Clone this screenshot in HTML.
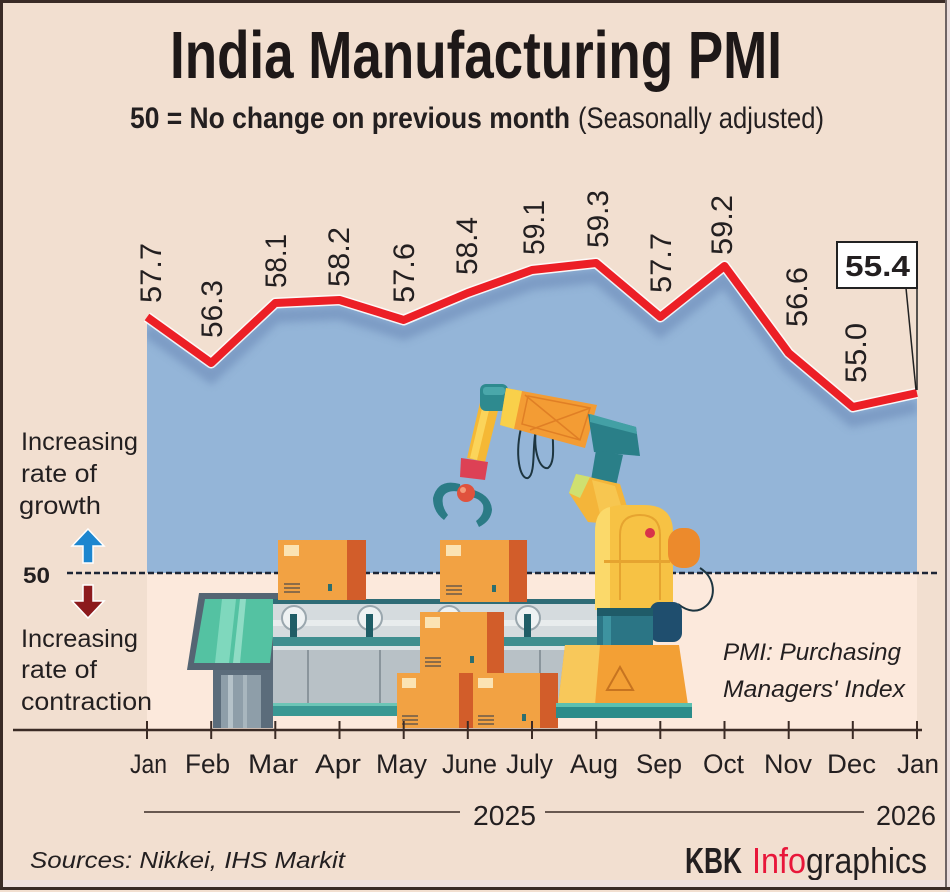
<!DOCTYPE html>
<html><head><meta charset="utf-8">
<style>
html,body{margin:0;padding:0;background:#f2dfd0;}
svg{display:block;}
text{font-family:"Liberation Sans",sans-serif;fill:#231f20;}
</style></head>
<body>
<svg width="950" height="892" viewBox="0 0 950 892" xmlns="http://www.w3.org/2000/svg">
<defs>
  <clipPath id="blueclip">
    <polygon points="147,322 211.2,368 275.3,308 339.5,305 403.7,325 467.8,298 532,275 596.2,268 660.3,322 724.5,271 788.7,358 852.8,412 917,398 917,573 147,573"/>
  </clipPath>
  <filter id="blur" x="-10%" y="-50%" width="120%" height="200%"><feGaussianBlur stdDeviation="4"/></filter>
</defs>
<rect x="0" y="0" width="950" height="892" fill="#f2dfd0"/>
<!-- lower plot region -->
<rect x="147" y="573" width="770" height="157" fill="#fce9dc"/>
<!-- blue area -->
<polygon points="147,322 211.2,368 275.3,308 339.5,305 403.7,325 467.8,298 532,275 596.2,268 660.3,322 724.5,271 788.7,358 852.8,412 917,398 917,573 147,573" fill="#94b5d8"/>
<g clip-path="url(#blueclip)">
  <polyline points="147,330 211.2,376 275.3,316 339.5,313 403.7,333 467.8,306 532,283 596.2,276 660.3,330 724.5,279 788.7,366 852.8,420 917,406" fill="none" stroke="#7795c0" stroke-width="14" filter="url(#blur)" opacity="0.8"/>
</g>
<!-- red line -->
<polyline points="147,317 211.2,363 275.3,303 339.5,300 403.7,320 467.8,293 532,270 596.2,263 660.3,317 724.5,266 788.7,353 852.8,407 917,393" fill="none" stroke="#ffffff" stroke-width="11" stroke-linejoin="round" opacity="0.85"/>
<polyline points="147,317 211.2,363 275.3,303 339.5,300 403.7,320 467.8,293 532,270 596.2,263 660.3,317 724.5,266 788.7,353 852.8,407 917,393" fill="none" stroke="#ec1f26" stroke-width="8" stroke-linejoin="round"/>

<!-- data labels -->
<g font-size="30">
<text transform="translate(161,303) rotate(-90)" textLength="60" lengthAdjust="spacingAndGlyphs">57.7</text>
<text transform="translate(222,338) rotate(-90)" textLength="58" lengthAdjust="spacingAndGlyphs">56.3</text>
<text transform="translate(286,288) rotate(-90)" textLength="54" lengthAdjust="spacingAndGlyphs">58.1</text>
<text transform="translate(349,287) rotate(-90)" textLength="60" lengthAdjust="spacingAndGlyphs">58.2</text>
<text transform="translate(414,303) rotate(-90)" textLength="60" lengthAdjust="spacingAndGlyphs">57.6</text>
<text transform="translate(477,275) rotate(-90)" textLength="58" lengthAdjust="spacingAndGlyphs">58.4</text>
<text transform="translate(544,255) rotate(-90)" textLength="55" lengthAdjust="spacingAndGlyphs">59.1</text>
<text transform="translate(608,248) rotate(-90)" textLength="58" lengthAdjust="spacingAndGlyphs">59.3</text>
<text transform="translate(671,293) rotate(-90)" textLength="60" lengthAdjust="spacingAndGlyphs">57.7</text>
<text transform="translate(732,255) rotate(-90)" textLength="60" lengthAdjust="spacingAndGlyphs">59.2</text>
<text transform="translate(807,327) rotate(-90)" textLength="60" lengthAdjust="spacingAndGlyphs">56.6</text>
<text transform="translate(866,383) rotate(-90)" textLength="60" lengthAdjust="spacingAndGlyphs">55.0</text>
</g>

<!-- 55.4 callout -->
<line x1="906" y1="288" x2="916" y2="390" stroke="#222" stroke-width="1.5"/>
<line x1="917" y1="288" x2="917" y2="390" stroke="#222" stroke-width="1.5"/>
<rect x="837" y="242" width="80" height="46" fill="#ffffff" stroke="#222" stroke-width="2"/>
<text x="845" y="276" font-size="29" font-weight="bold" textLength="65" lengthAdjust="spacingAndGlyphs">55.4</text>

<!-- 50 dashed line -->
<line x1="67" y1="573" x2="937" y2="573" stroke="#1d2535" stroke-width="2.5" stroke-dasharray="6,3"/>

<!-- ILLUSTRATION -->
<!-- control panel stand -->
<rect x="213" y="667" width="60" height="61" fill="#5b6c7b"/>
<rect x="221" y="675" width="40" height="53" fill="#8e9ea9"/>
<rect x="228" y="675" width="5" height="53" fill="#b5c2c9"/>
<rect x="243" y="675" width="4" height="53" fill="#a8b6be"/>
<!-- screen -->
<polygon points="199,593 283,593 275,670 187,670" fill="#556573"/>
<polygon points="205,599 277,599 270,663 194,663" fill="#54c2a2"/>
<polygon points="222,599 236,599 229,663 215,663" fill="#7fd8bd"/>
<polygon points="240,599 246,599 240,663 233,663" fill="#8fdcc5"/>
<!-- conveyor -->
<rect x="273" y="601" width="327" height="38" fill="#d5dbde"/>
<rect x="273" y="599" width="327" height="5" fill="#2f6c76"/>
<rect x="273" y="620" width="327" height="6" fill="#e8eced"/>
<g fill="#eef2f3" stroke="#9aa7ae" stroke-width="2">
<circle cx="294" cy="618" r="12"/><circle cx="370" cy="618" r="12"/><circle cx="449" cy="618" r="12"/><circle cx="528" cy="618" r="12"/>
</g>
<g fill="#1f5d66">
<rect x="290" y="614" width="7" height="26"/><rect x="366" y="614" width="7" height="26"/><rect x="445" y="614" width="7" height="26"/><rect x="524" y="614" width="7" height="26"/>
</g>
<rect x="273" y="637" width="327" height="9" fill="#3f8e8f"/>
<rect x="273" y="646" width="327" height="59" fill="#b8c1c6"/>
<rect x="273" y="646" width="327" height="4" fill="#dde3e6"/>
<g stroke="#8a959c" stroke-width="2">
<line x1="308" y1="650" x2="308" y2="703"/><line x1="380" y1="650" x2="380" y2="703"/><line x1="460" y1="650" x2="460" y2="703"/><line x1="540" y1="650" x2="540" y2="703"/>
</g>
<rect x="273" y="703" width="290" height="13" fill="#3a9893"/>
<rect x="273" y="703" width="290" height="3" fill="#6cc5b6"/>

<!-- boxes -->
<g id="boxes">
<!-- box1 -->
<rect x="278" y="540" width="88" height="60" fill="#f2a243"/>
<rect x="347" y="540" width="19" height="60" fill="#d25d2a"/>
<rect x="284" y="545" width="15" height="11" fill="#fbe3b3"/>
<g stroke="#6b5a4a" stroke-width="1.5"><line x1="284" y1="584" x2="300" y2="584"/><line x1="284" y1="588" x2="300" y2="588"/><line x1="284" y1="592" x2="300" y2="592"/></g>
<rect x="328" y="584" width="4" height="7" fill="#2d6e6e"/>
<!-- box2 -->
<rect x="440" y="540" width="87" height="62" fill="#f2a243"/>
<rect x="509" y="540" width="18" height="62" fill="#d25d2a"/>
<rect x="446" y="545" width="15" height="11" fill="#fbe3b3"/>
<g stroke="#6b5a4a" stroke-width="1.5"><line x1="446" y1="586" x2="462" y2="586"/><line x1="446" y1="590" x2="462" y2="590"/><line x1="446" y1="594" x2="462" y2="594"/></g>
<rect x="492" y="585" width="4" height="7" fill="#2d6e6e"/>
<!-- box3 -->
<rect x="420" y="612" width="84" height="61" fill="#f2a243"/>
<rect x="487" y="612" width="17" height="61" fill="#d25d2a"/>
<rect x="425" y="617" width="15" height="11" fill="#fbe3b3"/>
<g stroke="#6b5a4a" stroke-width="1.5"><line x1="425" y1="658" x2="441" y2="658"/><line x1="425" y1="662" x2="441" y2="662"/><line x1="425" y1="666" x2="441" y2="666"/></g>
<rect x="470" y="656" width="4" height="7" fill="#2d6e6e"/>
<!-- box4 -->
<rect x="397" y="673" width="76" height="55" fill="#f2a243"/>
<rect x="459" y="673" width="14" height="55" fill="#d25d2a"/>
<rect x="402" y="678" width="14" height="10" fill="#fbe3b3"/>
<g stroke="#6b5a4a" stroke-width="1.5"><line x1="402" y1="716" x2="418" y2="716"/><line x1="402" y1="720" x2="418" y2="720"/><line x1="402" y1="724" x2="418" y2="724"/></g>
<!-- box5 -->
<rect x="473" y="673" width="85" height="55" fill="#f2a243"/>
<rect x="540" y="673" width="18" height="55" fill="#d25d2a"/>
<rect x="478" y="678" width="15" height="10" fill="#fbe3b3"/>
<g stroke="#6b5a4a" stroke-width="1.5"><line x1="478" y1="716" x2="494" y2="716"/><line x1="478" y1="720" x2="494" y2="720"/><line x1="478" y1="724" x2="494" y2="724"/></g>
<rect x="522" y="714" width="4" height="7" fill="#2d6e6e"/>
</g>

<!-- robot -->
<!-- cables -->
<g fill="none" stroke="#1d3540" stroke-width="2">
<path d="M522,424 C514,455 520,480 528,478 C536,474 532,445 536,430"/>
<path d="M536,428 C533,452 540,470 548,468 C556,462 552,442 553,432"/>
<path d="M700,568 C716,578 716,598 706,606 C698,613 688,612 678,604"/>
</g>
<!-- forearm -->
<polygon points="482,394 501,399 485,462 467,458" fill="#f5b835"/>
<polygon points="485,396 492,398 477,460 470,458" fill="#fbd45a"/>
<!-- wrist -->
<polygon points="461,458 488,462 485,480 460,477" fill="#dd4155"/>
<!-- claws -->
<path d="M460,484 Q438,478 433,498 Q433,512 444,520 L448,515 Q441,506 443,497 Q447,489 461,492 Z" fill="#2b7b86"/>
<path d="M470,489 Q491,494 492,510 Q491,521 479,527 L476,521 Q485,514 483,505 Q479,497 468,497 Z" fill="#2b7b86"/>
<circle cx="466" cy="493" r="9" fill="#e0523d"/>
<circle cx="463" cy="490" r="3" fill="#f39a7a"/>
<!-- shoulder joint -->
<rect x="480" y="384" width="28" height="27" rx="6" fill="#2e8a8f"/>
<rect x="483" y="387" width="22" height="8" rx="3" fill="#4aa7aa"/>
<!-- top arm -->
<polygon points="506,388 597,405 585,448 500,425" fill="#f39c34"/>
<polygon points="506,388 522,391 514,429 500,425" fill="#f9d04a"/>
<g stroke="#e07f25" stroke-width="1.5" fill="none">
<line x1="525" y1="395" x2="580" y2="440"/><line x1="530" y1="430" x2="590" y2="408"/>
<polygon points="528,396 590,408 580,440 522,424"/>
</g>
<!-- elbow -->
<polygon points="588,414 636,427 640,456 594,452" fill="#2a7f88"/>
<polygon points="590,414 636,427 637,434 590,422" fill="#43a0a5"/>
<polygon points="596,450 623,455 616,486 591,480" fill="#2a7f88"/>
<!-- lower arm -->
<polygon points="576,474 620,484 633,526 588,522 569,493" fill="#f4b53a"/>
<polygon points="576,474 590,477 580,498 569,493" fill="#cfe070"/>
<polygon points="592,480 615,486 625,518 600,514" fill="#f7c650"/>
<!-- body -->
<path d="M595,610 L595,532 Q595,505 624,505 L644,505 Q673,505 673,532 L673,610 Z" fill="#f7c244"/>
<path d="M595,610 L595,532 Q595,510 610,507 L610,610 Z" fill="#fbd96a"/>
<path d="M620,600 L620,535 Q620,515 640,515 Q660,515 660,535 L660,600" fill="none" stroke="#e6a430" stroke-width="2"/>
<rect x="604" y="560" width="66" height="3" fill="#e6a430"/>
<circle cx="650" cy="533" r="5" fill="#d8324a"/>
<rect x="668" y="528" width="32" height="40" rx="14" fill="#ec8a2c"/>
<!-- motor & cylinder -->
<rect x="650" y="602" width="32" height="40" rx="9" fill="#1f4e6e"/>
<rect x="597" y="608" width="56" height="38" fill="#2b7585"/>
<rect x="597" y="608" width="56" height="8" fill="#1f5b68"/>
<rect x="603" y="616" width="8" height="30" fill="#3d93a0"/>
<!-- base -->
<polygon points="565,645 679,645 688,705 558,705" fill="#f3a035"/>
<polygon points="565,645 600,645 595,705 558,705" fill="#f8c85a"/>
<polygon points="620,667 633,690 607,690" fill="none" stroke="#c77420" stroke-width="2"/>
<rect x="556" y="703" width="136" height="15" fill="#2b8c8a"/>
<rect x="556" y="703" width="136" height="4" fill="#5cc0b0"/>

<!-- axis -->
<line x1="13" y1="730" x2="922" y2="730" stroke="#3b2b25" stroke-width="2.5"/>
<g stroke="#3b2b25" stroke-width="2">
<line x1="147" y1="721" x2="147" y2="739"/><line x1="211.2" y1="721" x2="211.2" y2="739"/><line x1="275.3" y1="721" x2="275.3" y2="739"/><line x1="339.5" y1="721" x2="339.5" y2="739"/><line x1="403.7" y1="721" x2="403.7" y2="739"/><line x1="467.8" y1="721" x2="467.8" y2="739"/><line x1="532" y1="721" x2="532" y2="739"/><line x1="596.2" y1="721" x2="596.2" y2="739"/><line x1="660.3" y1="721" x2="660.3" y2="739"/><line x1="724.5" y1="721" x2="724.5" y2="739"/><line x1="788.7" y1="721" x2="788.7" y2="739"/><line x1="852.8" y1="721" x2="852.8" y2="739"/><line x1="917" y1="721" x2="917" y2="739"/>
</g>

<!-- month labels -->
<g font-size="27">
<text x="130" y="773" textLength="37" lengthAdjust="spacingAndGlyphs">Jan</text>
<text x="185" y="773" textLength="45" lengthAdjust="spacingAndGlyphs">Feb</text>
<text x="248" y="773" textLength="50" lengthAdjust="spacingAndGlyphs">Mar</text>
<text x="315" y="773" textLength="46" lengthAdjust="spacingAndGlyphs">Apr</text>
<text x="376" y="773" textLength="51" lengthAdjust="spacingAndGlyphs">May</text>
<text x="442" y="773" textLength="55" lengthAdjust="spacingAndGlyphs">June</text>
<text x="506" y="773" textLength="47" lengthAdjust="spacingAndGlyphs">July</text>
<text x="570" y="773" textLength="48" lengthAdjust="spacingAndGlyphs">Aug</text>
<text x="636" y="773" textLength="46" lengthAdjust="spacingAndGlyphs">Sep</text>
<text x="703" y="773" textLength="41" lengthAdjust="spacingAndGlyphs">Oct</text>
<text x="764" y="773" textLength="48" lengthAdjust="spacingAndGlyphs">Nov</text>
<text x="827" y="773" textLength="49" lengthAdjust="spacingAndGlyphs">Dec</text>
<text x="897" y="773" textLength="42" lengthAdjust="spacingAndGlyphs">Jan</text>
</g>

<!-- year row -->
<line x1="144" y1="812" x2="460" y2="812" stroke="#3b2b25" stroke-width="1.5"/>
<line x1="545" y1="812" x2="864" y2="812" stroke="#3b2b25" stroke-width="1.5"/>
<text x="473" y="825" font-size="28" textLength="63" lengthAdjust="spacingAndGlyphs">2025</text>
<text x="876" y="825" font-size="28" textLength="60" lengthAdjust="spacingAndGlyphs">2026</text>

<!-- left annotations -->
<g font-size="25">
<text x="21" y="450" textLength="117" lengthAdjust="spacingAndGlyphs">Increasing</text>
<text x="21" y="482" textLength="76" lengthAdjust="spacingAndGlyphs">rate of</text>
<text x="19" y="514" textLength="82" lengthAdjust="spacingAndGlyphs">growth</text>
<text x="21" y="647" textLength="117" lengthAdjust="spacingAndGlyphs">Increasing</text>
<text x="21" y="678" textLength="76" lengthAdjust="spacingAndGlyphs">rate of</text>
<text x="21" y="710" textLength="131" lengthAdjust="spacingAndGlyphs">contraction</text>
</g>
<text x="23" y="583" font-size="22" font-weight="bold" textLength="27" lengthAdjust="spacingAndGlyphs">50</text>
<!-- arrows -->
<path d="M88,529 L104,546 L93,546 L93,563 L83,563 L83,546 L72,546 Z" fill="#1d86cf" stroke="#ffffff" stroke-width="1.5"/>
<path d="M88,618 L104,601 L93,601 L93,585 L83,585 L83,601 L72,601 Z" fill="#8c1a1d" stroke="#ffffff" stroke-width="1.5"/>

<!-- PMI note -->
<g font-size="24" font-style="italic">
<text x="723" y="660" textLength="178" lengthAdjust="spacingAndGlyphs">PMI: Purchasing</text>
<text x="723" y="697" textLength="182" lengthAdjust="spacingAndGlyphs">Managers' Index</text>
</g>

<!-- title -->
<text x="170" y="78" font-size="67" font-weight="bold" textLength="612" lengthAdjust="spacingAndGlyphs" style="fill:#1e1818">India Manufacturing PMI</text>
<text x="130" y="128" font-size="30" font-weight="bold" textLength="440" lengthAdjust="spacingAndGlyphs">50 = No change on previous month</text>
<text x="578" y="128" font-size="30" textLength="246" lengthAdjust="spacingAndGlyphs">(Seasonally adjusted)</text>

<!-- footer -->
<text x="30" y="868" font-size="23" font-style="italic" textLength="315" lengthAdjust="spacingAndGlyphs">Sources: Nikkei, IHS Markit</text>
<text x="685" y="873" font-size="36" font-weight="bold" textLength="57" lengthAdjust="spacingAndGlyphs">KBK</text>
<text x="752" y="873" font-size="36" textLength="54" lengthAdjust="spacingAndGlyphs" style="fill:#e8173a">Info</text>
<text x="806" y="873" font-size="36" textLength="121" lengthAdjust="spacingAndGlyphs">graphics</text>

<!-- frame -->
<rect x="0" y="0" width="950" height="3" fill="#3a2b26"/>
<rect x="0" y="0" width="3" height="890" fill="#3a2b26"/>
<rect x="945" y="0" width="2" height="890" fill="#6f6464"/>
<rect x="947" y="0" width="3" height="892" fill="#e9dcdc"/>
<rect x="3" y="880" width="942" height="7" fill="#efe0de"/>
<rect x="0" y="887" width="950" height="3" fill="#3a2b26"/>
</svg>
</body></html>
